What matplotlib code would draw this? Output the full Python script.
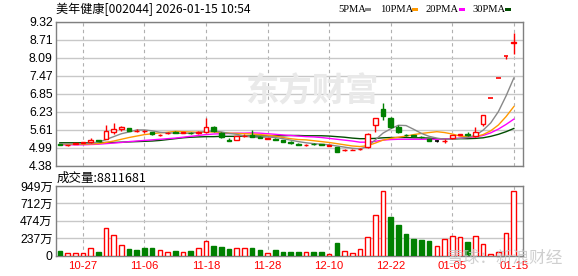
import matplotlib
matplotlib.use("Agg")
import matplotlib.pyplot as plt
from matplotlib.patches import Rectangle
import numpy as np

# trading days shown (10-22 .. 01-15)
dates = ['10-22', '10-23', '10-24', '10-27', '10-28', '10-29', '10-30', '10-31',
         '11-03', '11-04', '11-05', '11-06', '11-07', '11-10', '11-11', '11-12',
         '11-13', '11-14', '11-17', '11-18', '11-19', '11-20', '11-21', '11-24',
         '11-25', '11-26', '11-27', '11-28', '12-01', '12-02', '12-03', '12-04',
         '12-05', '12-08', '12-09', '12-10', '12-11', '12-12', '12-15', '12-16',
         '12-17', '12-18', '12-19', '12-22', '12-23', '12-24', '12-25', '12-26',
         '12-29', '12-30', '12-31', '01-05', '01-06', '01-07', '01-08', '01-09',
         '01-12', '01-13', '01-14', '01-15']

opens = [5.12, 5.07, 5.12, 5.15, 5.18, 5.25, 5.30, 5.52, 5.64, 5.66,
         5.56, 5.55, 5.52, 5.43, 5.49, 5.52, 5.50, 5.51, 5.50, 5.53,
         5.71, 5.49, 5.26, 5.27, 5.38, 5.42, 5.36, 5.29, 5.30, 5.26,
         5.20, 5.12, 5.09, 5.13, 5.11, 5.06, 5.01, 4.91, 4.91, 4.93,
         5.00, 5.76, 6.31, 6.00, 5.70, 5.43, 5.41, 5.37, 5.28, 5.22,
         5.22, 5.31, 5.43, 5.46, 5.38, 5.79, 6.71, 7.38, 8.12, 8.58]
highs = [5.13, 5.09, 5.15, 5.18, 5.34, 5.27, 5.76, 5.84, 5.75, 5.67,
         5.63, 5.60, 5.54, 5.46, 5.52, 5.55, 5.54, 5.53, 5.57, 6.00,
         5.72, 5.53, 5.34, 5.40, 5.45, 5.60, 5.38, 5.33, 5.31, 5.27,
         5.22, 5.14, 5.12, 5.15, 5.12, 5.08, 5.02, 4.94, 4.93, 4.98,
         5.48, 6.02, 6.51, 6.05, 5.76, 5.47, 5.42, 5.40, 5.29, 5.25,
         5.28, 5.44, 5.47, 5.54, 5.70, 6.10, 6.71, 7.38, 8.12, 8.93]
lows = [5.08, 5.06, 5.11, 5.14, 5.16, 5.21, 5.28, 5.45, 5.55, 5.55,
        5.52, 5.50, 5.43, 5.40, 5.46, 5.48, 5.49, 5.47, 5.47, 5.50,
        5.54, 5.33, 5.21, 5.24, 5.36, 5.35, 5.31, 5.28, 5.26, 5.18,
        5.12, 5.08, 5.05, 5.10, 5.08, 5.05, 4.84, 4.88, 4.90, 4.92,
        4.97, 5.53, 5.93, 5.65, 5.50, 5.38, 5.38, 5.32, 5.21, 5.19,
        5.16, 5.30, 5.41, 5.40, 5.37, 5.75, 6.71, 7.38, 8.02, 8.22]
closes = [5.10, 5.08, 5.14, 5.17, 5.27, 5.23, 5.55, 5.62, 5.69, 5.58,
          5.57, 5.56, 5.45, 5.44, 5.50, 5.51, 5.52, 5.50, 5.53, 5.70,
          5.56, 5.36, 5.23, 5.38, 5.40, 5.37, 5.33, 5.31, 5.27, 5.20,
          5.14, 5.10, 5.10, 5.11, 5.09, 5.07, 4.86, 4.92, 4.92, 4.96,
          5.47, 6.01, 6.08, 5.70, 5.53, 5.41, 5.39, 5.35, 5.22, 5.22,
          5.23, 5.43, 5.45, 5.43, 5.53, 6.10, 6.71, 7.38, 8.12, 8.61]

# volume in 万 shares, 1 = up day (red), 0 = down day (green)
volumes = [55, 37, 37, 40, 105, 41, 371, 275, 147, 82,
           69, 96, 96, 78, 50, 55, 50, 55, 96, 192,
           124, 110, 82, 96, 96, 96, 69, 37, 69, 41,
           41, 41, 41, 41, 41, 27, 165, 64, 37, 82,
           247, 550, 880, 522, 412, 289, 220, 211, 192, 124,
           220, 270, 257, 179, 270, 160, 27, 41, 312, 881]
vol_up = [0, 1, 1, 1, 1, 0, 1, 1, 1, 0,
          0, 0, 0, 1, 1, 0, 1, 0, 1, 1,
          0, 0, 0, 1, 1, 0, 0, 1, 0, 0,
          0, 0, 1, 0, 0, 1, 0, 1, 1, 1,
          1, 1, 1, 0, 0, 0, 0, 0, 0, 1,
          1, 1, 1, 0, 1, 1, 1, 1, 1, 1]

ma5 = [5.13, 5.12, 5.12, 5.13, 5.15, 5.18, 5.27, 5.37, 5.47, 5.53,
       5.60, 5.60, 5.57, 5.52, 5.50, 5.49, 5.48, 5.49, 5.51, 5.55,
       5.56, 5.53, 5.48, 5.45, 5.39, 5.35, 5.34, 5.36, 5.34, 5.30,
       5.25, 5.20, 5.16, 5.13, 5.11, 5.09, 5.05, 5.01, 4.97, 4.95,
       5.03, 5.26, 5.49, 5.64, 5.76, 5.75, 5.62, 5.48, 5.38, 5.32,
       5.28, 5.29, 5.31, 5.35, 5.41, 5.59, 5.84, 6.23, 6.77, 7.38]
ma10 = [5.12, 5.11, 5.11, 5.11, 5.12, 5.13, 5.17, 5.22, 5.28, 5.34,
        5.39, 5.44, 5.47, 5.50, 5.52, 5.55, 5.54, 5.53, 5.52, 5.53,
        5.53, 5.51, 5.49, 5.48, 5.47, 5.46, 5.44, 5.42, 5.39, 5.34,
        5.30, 5.27, 5.26, 5.23, 5.20, 5.17, 5.13, 5.09, 5.05, 5.03,
        5.06, 5.15, 5.25, 5.31, 5.35, 5.39, 5.44, 5.48, 5.51, 5.54,
        5.51, 5.46, 5.39, 5.37, 5.37, 5.44, 5.57, 5.77, 6.06, 6.40]
ma20 = [5.09, 5.09, 5.09, 5.09, 5.10, 5.11, 5.13, 5.15, 5.17, 5.20,
        5.22, 5.24, 5.26, 5.28, 5.30, 5.32, 5.35, 5.38, 5.41, 5.44,
        5.46, 5.47, 5.48, 5.49, 5.49, 5.50, 5.49, 5.47, 5.45, 5.43,
        5.41, 5.39, 5.37, 5.36, 5.34, 5.31, 5.28, 5.25, 5.22, 5.18,
        5.18, 5.21, 5.25, 5.27, 5.28, 5.28, 5.28, 5.28, 5.28, 5.28,
        5.29, 5.30, 5.32, 5.34, 5.36, 5.41, 5.50, 5.63, 5.79, 5.97]
ma30 = [5.16, 5.16, 5.16, 5.16, 5.16, 5.16, 5.17, 5.17, 5.18, 5.19,
        5.20, 5.21, 5.22, 5.24, 5.27, 5.30, 5.33, 5.35, 5.36, 5.37,
        5.37, 5.38, 5.38, 5.38, 5.39, 5.39, 5.39, 5.40, 5.40, 5.40,
        5.41, 5.41, 5.40, 5.40, 5.40, 5.39, 5.37, 5.35, 5.32, 5.30,
        5.30, 5.31, 5.33, 5.34, 5.34, 5.34, 5.33, 5.33, 5.32, 5.30,
        5.29, 5.29, 5.30, 5.30, 5.31, 5.33, 5.38, 5.45, 5.54, 5.65]

price_labels = ['4.38', '4.99', '5.61', '6.23', '6.85', '7.47', '8.09', '8.71', '9.32']
vol_labels = ['0', '237万', '474万', '712万', '949万']
xtick_dates = ['10-27', '11-06', '11-18', '11-28', '12-10', '12-22', '01-05', '01-15']
ma_names = ['5PMA', '10PMA', '20PMA', '30PMA']
title = '美年健康[002044] 2026-01-15 10:54'
last_vol = '8811681'

RED = '#ff0000'
GREEN = '#008000'
MA_COLORS = ['#888888', '#ff9900', '#ff00ff', '#004d00']
W, H = 578.0, 276.0
CJK = ['Noto Sans CJK SC', 'DejaVu Sans']
NUM = ['Liberation Sans', 'Noto Sans CJK SC']

fig = plt.figure(figsize=(5.78, 2.76), dpi=100)
fig.patch.set_facecolor('white')
ax = fig.add_axes([55.5 / W, 1 - 165.5 / H, 467 / W, 144 / H])
axv = fig.add_axes([55.5 / W, 1 - 255.5 / H, 467 / W, 69.5 / H])

xs = list(range(len(dates)))
tick_pos = [dates.index(d) for d in xtick_dates]

for a in (ax, axv):
    a.set_xlim(-0.56, len(dates) + 0.13)
    a.set_xticks(tick_pos)
    a.tick_params(length=0)
    for s in a.spines.values():
        s.set_color('#808080')
        s.set_linewidth(1)
    a.xaxis.grid(True, color='#b0b0b0', ls=(0, (3, 3)), lw=0.8)
    a.yaxis.grid(True, color='#c8c8c8', lw=1)
    a.set_axisbelow(True)

# price panel
ax.set_ylim(4.38, 9.32)
ax.set_yticks(np.linspace(4.38, 9.32, len(price_labels)))
ax.set_yticklabels(price_labels, family=NUM, fontsize=8.8)
ax.tick_params(axis='y', pad=2)
ax.set_xticklabels([])

# moving averages (30 drawn first, 5 on top)
for ma, col in zip([ma30, ma20, ma10, ma5], MA_COLORS[::-1]):
    ax.plot(xs, ma, color=col, lw=1, zorder=2)

bw = 0.6
for i in xs:
    o, h, l, c = opens[i], highs[i], lows[i], closes[i]
    prev = closes[i - 1] if i > 0 else c
    if c > o or (c == o and c > prev):
        col = RED
    elif c < o or (c == o and c < prev):
        col = GREEN
    else:
        col = 'black'
    ax.vlines(i, l, h, color=col, lw=1, zorder=3)
    if c == o:
        ax.hlines(c, i - bw / 2, i + bw / 2, color=col, lw=1.2, zorder=4)
    else:
        face = 'white' if col == RED else col
        ax.add_patch(Rectangle((i - bw / 2, min(o, c)), bw, abs(c - o),
                               facecolor=face, edgecolor=col, lw=1, zorder=4))

# volume panel
axv.set_ylim(0, 949)
axv.set_yticks([0, 237, 474, 712, 949])
axv.set_yticklabels(vol_labels, family=NUM, fontsize=8.8)
axv.tick_params(axis='y', pad=2)
axv.set_xticklabels(xtick_dates, family=NUM, fontsize=8.2, color=RED)
axv.tick_params(axis='x', pad=4)
faces = ['white' if u else GREEN for u in vol_up]
edges = [RED if u else GREEN for u in vol_up]
axv.bar(xs, volumes, width=bw, color=faces, edgecolor=edges, lw=1, zorder=3)

# texts
fig.text(56 / W, 1 - 9 / H, title, family=CJK, fontsize=8.7, va='center', ha='left')
fig.text(57 / W, 1 - 178 / H, '成交量:' + last_vol, family=CJK, fontsize=9,
         va='center', ha='left')

# legend: label then a small colour chip
label_x = [338, 380, 426, 472]
chip_x = [365, 412, 459, 505]
for name, col, lx, cx in zip(ma_names, MA_COLORS, label_x, chip_x):
    fig.text(lx / W, 1 - 9 / H, name, family=['Liberation Serif'], fontsize=7.6,
             va='center', ha='left')
    fig.add_artist(Rectangle((cx / W, 1 - 11 / H), 6 / W, 3.5 / H,
                             transform=fig.transFigure,
                             facecolor=col, edgecolor='none'))

# watermarks
fig.text(312 / W, 1 - 92 / H, '东方财富', family=CJK, fontsize=24, weight='bold',
         color='#e9e9e9', ha='center', va='center', zorder=0)
fig.text(447 / W, 1 - 258 / H, '雪球：新浪财经', family=CJK, fontsize=12,
         color='#c4c4c4', alpha=0.8, ha='left', va='center', zorder=10)

fig.savefig('out.png', dpi=100)
